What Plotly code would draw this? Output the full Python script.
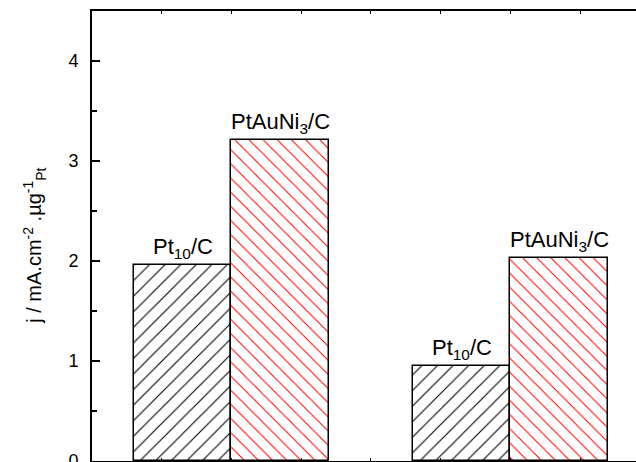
import plotly.graph_objects as go

# Mass activity of the two catalysts in two conditions
groups = [0, 4]                     # group centre positions on the numeric x axis
pt10_values = [1.96, 0.95]
ptauni3_values = [3.21, 2.03]
pt10_label = "Pt<sub>10</sub>/C"
ptauni3_label = "PtAuNi<sub>3</sub>/C"
y_ticks = [0, 1, 2, 3, 4]

BAR_W = 1.4
FONT = "Liberation Sans"

fig = go.Figure()

fig.add_trace(go.Bar(
    x=[g - BAR_W / 2 for g in groups], y=pt10_values, width=BAR_W,
    marker=dict(color="white", line=dict(color="black", width=1.5),
                pattern=dict(shape="/", fgcolor="black", bgcolor="white",
                             fgopacity=1, size=11, solidity=0.1, fillmode="overlay")),
    showlegend=False, hoverinfo="skip",
))
fig.add_trace(go.Bar(
    x=[g + BAR_W / 2 for g in groups], y=ptauni3_values, width=BAR_W,
    marker=dict(color="white", line=dict(color="black", width=1.5),
                pattern=dict(shape="\\", fgcolor="red", bgcolor="white",
                             fgopacity=1, size=10, solidity=0.1, fillmode="overlay")),
    showlegend=False, hoverinfo="skip",
))

# Labels above each bar
for g, v in zip(groups, pt10_values):
    fig.add_annotation(x=g - BAR_W / 2, y=v, text=pt10_label, showarrow=False,
                       yanchor="bottom", yshift=1,
                       font=dict(family=FONT, size=22, color="black"))
for g, v in zip(groups, ptauni3_values):
    fig.add_annotation(x=g + BAR_W / 2, y=v, text=ptauni3_label, showarrow=False,
                       yanchor="bottom", yshift=1,
                       font=dict(family=FONT, size=22, color="black"))

# Y axis title
fig.add_annotation(xref="paper", yref="paper", x=-0.105, y=0.478,
                   text="j / mA.cm<sup>-2</sup> .µg<sup>-1</sup><sub>Pt</sub>",
                   textangle=-90, showarrow=False, xanchor="center", yanchor="middle",
                   font=dict(family=FONT, size=20, color="black"))

fig.update_layout(
    width=636, height=462,
    margin=dict(l=92, r=0, t=11, b=1, autoexpand=False),
    plot_bgcolor="white", paper_bgcolor="white",
    bargap=0, barmode="overlay",
    xaxis=dict(range=[-2, 5.8], showgrid=False, zeroline=False, automargin=False,
               showline=True, linecolor="black", linewidth=2, mirror="allticks",
               ticks="inside", ticklen=3, tickcolor="black", dtick=1, tick0=0,
               showticklabels=False),
    yaxis=dict(range=[0, 4.5], showgrid=False, zeroline=False, automargin=False,
               showline=True, linecolor="black", linewidth=2,
               ticks="inside", ticklen=8, tickwidth=1.5, tickcolor="black",
               tickvals=y_ticks, ticktext=[str(t) for t in y_ticks],
               ticklabelstandoff=8, ticklabeloverflow="allow",
               tickfont=dict(family=FONT, size=18, color="black"),
               minor=dict(ticks="inside", ticklen=5, tickwidth=1.5, dtick=0.5,
                          tickcolor="black", showgrid=False)),
)

fig.write_html("out.html")
